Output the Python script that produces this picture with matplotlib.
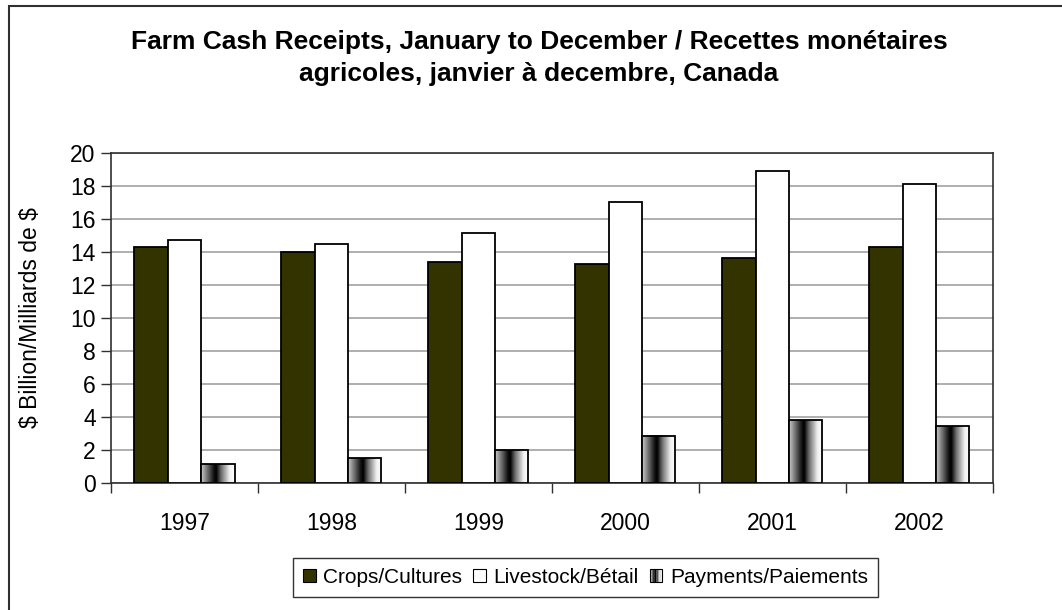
import numpy as np
import matplotlib
matplotlib.use("Agg")
import matplotlib.pyplot as plt
from matplotlib.colors import LinearSegmentedColormap
from matplotlib.patches import Rectangle, Patch
from matplotlib.legend_handler import HandlerPatch

years = ["1997", "1998", "1999", "2000", "2001", "2002"]
crops = [14.3, 14.0, 13.35, 13.25, 13.6, 14.3]
livestock = [14.7, 14.45, 15.15, 17.0, 18.9, 18.1]
payments = [1.15, 1.5, 2.0, 2.85, 3.8, 3.45]

labels = ["Crops/Cultures", "Livestock/Bétail", "Payments/Paiements"]
title = ("Farm Cash Receipts, January to December / Recettes monétaires\n"
         "agricoles, janvier à decembre, Canada")
ylabel = r"\$ Billion/Milliards de \$"

plt.rcParams['font.family'] = ['Liberation Sans', 'DejaVu Sans']

# cylinder-like shading for the payments bars
cyl = LinearSegmentedColormap.from_list(
    "cyl", [(0, "#c8c8c8"), (0.38, "#101010"), (0.45, "#000000"),
            (0.6, "#707070"), (0.85, "#f0f0f0"), (1, "#ffffff")])
grad = np.linspace(0, 1, 64).reshape(1, -1)


class GradientHandler(HandlerPatch):
    def create_artists(self, legend, orig_handle, xdescent, ydescent,
                       width, height, fontsize, trans):
        s = min(width, height)
        x0 = -xdescent + (width - s) / 2
        y0 = -ydescent + (height - s) / 2
        arts = []
        n = 8
        for i in range(n):
            c = cyl((i + 0.5) / n)
            arts.append(Rectangle((x0 + i * s / n, y0), s / n, s, facecolor=c,
                                  edgecolor='none', transform=trans))
        arts.append(Rectangle((x0, y0), s, s, facecolor='none',
                              edgecolor='black', lw=0.8, transform=trans))
        return arts


class SquareHandler(HandlerPatch):
    def create_artists(self, legend, orig_handle, xdescent, ydescent,
                       width, height, fontsize, trans):
        s = min(width, height)
        x0 = -xdescent + (width - s) / 2
        y0 = -ydescent + (height - s) / 2
        r = Rectangle((x0, y0), s, s, facecolor=orig_handle.get_facecolor(),
                      edgecolor='black', lw=0.8, transform=trans)
        return [r]


fig = plt.figure(figsize=(10.62, 6.10), dpi=100)
fig.patch.set_facecolor('white')

# chart area border (runs off the right and bottom edge)
fig.add_artist(Rectangle((9 / 1062, -0.1), 1.2, 1 - 6 / 610 + 0.1,
                         transform=fig.transFigure, facecolor='none',
                         edgecolor='#303030', lw=1.5))

ax = fig.add_axes([111 / 1062, 1 - 482.7 / 610, 881.7 / 1062, 330 / 610])

x = np.arange(len(years))
w = 0.227

ax.bar(x - w, crops, w, color='#333300', edgecolor='black', lw=1.3, zorder=3)
ax.bar(x, livestock, w, color='white', edgecolor='black', lw=1.3, zorder=3)
for xi, v in zip(x, payments):
    ax.imshow(grad, cmap=cyl, aspect='auto', zorder=3,
              extent=(xi + w / 2, xi + 1.5 * w, 0, v), interpolation='bilinear')
ax.bar(x + w, payments, w, color='none', edgecolor='black', lw=1.3, zorder=4)

ax.set_xlim(-0.5, len(years) - 0.5)
ax.set_ylim(0, 20)
ax.set_yticks(range(0, 21, 2))
ax.set_xticks(x)
ax.set_xticklabels(years)
ax.set_xticks(np.arange(-0.5, len(years), 1), minor=True)
ax.tick_params(axis='x', which='major', length=0, pad=21, labelsize=16.5)
ax.tick_params(axis='x', which='minor', length=7, width=1, color='#303030',
               direction='out')
ax.tick_params(axis='y', length=7, width=1, color='#303030', labelsize=16.5,
               pad=4)
ax.yaxis.grid(True, color='#a8a8a8', lw=1.3)
ax.set_axisbelow(True)
for sp in ax.spines.values():
    sp.set_color('#303030')
    sp.set_linewidth(1.2)

ax.set_ylabel(ylabel, fontsize=16.5, labelpad=20)

fig.text(539 / 1062, 1 - 58 / 610, title, ha='center', va='center',
         fontsize=19, fontweight='bold', linespacing=1.45)

handles = [Patch(facecolor='#333300'), Patch(facecolor='white'),
           Patch(facecolor='grey')]
leg = fig.legend(handles, labels, loc='center', ncol=3,
                 bbox_to_anchor=(585.5 / 1062, 1 - 577.5 / 610),
                 fontsize=15, frameon=True, fancybox=False,
                 handlelength=0.6, handleheight=0.6, handletextpad=0.35,
                 columnspacing=0.55, borderpad=0.5,
                 handler_map={handles[0]: SquareHandler(),
                              handles[1]: SquareHandler(),
                              handles[2]: GradientHandler()})
leg.get_frame().set_edgecolor('black')
leg.get_frame().set_linewidth(1)

fig.savefig("out.png", dpi=100)
